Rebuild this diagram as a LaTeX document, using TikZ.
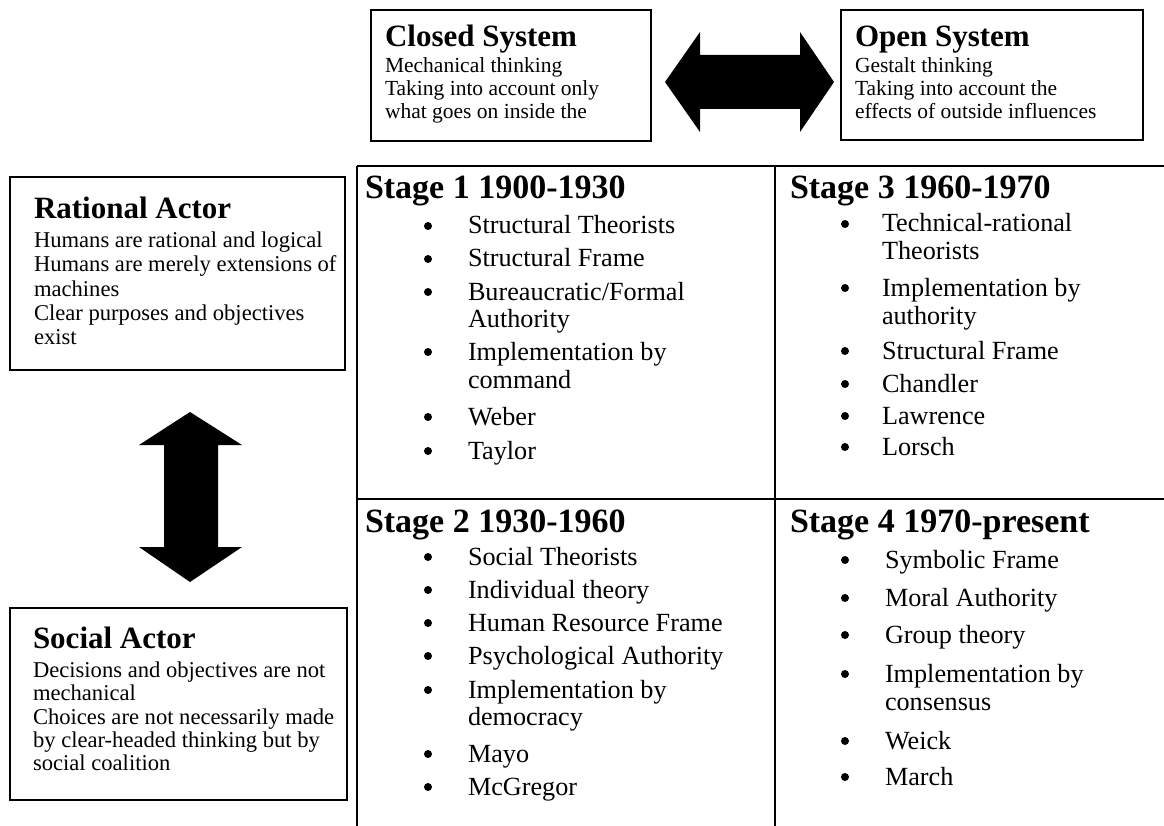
\documentclass[tikz,border=0pt]{standalone}
\usepackage{fontspec}
\setmainfont{Liberation Serif}
\begin{document}
\begin{tikzpicture}[x=1pt,y=-1pt,
  txt/.style={anchor=base west, inner sep=0pt, outer sep=0pt},
  ttl/.style={txt, font=\fontsize{31}{31}\selectfont\bfseries},
  small/.style={txt, font=\fontsize{21.5}{21.5}\selectfont},
  side/.style={txt, font=\fontsize{22.6}{22.6}\selectfont},
  stage/.style={txt, font=\fontsize{34}{34}\selectfont\bfseries},
  item/.style={txt, font=\fontsize{26.2}{26.2}\selectfont},
  boxline/.style={line width=1.4pt},
  gridline/.style={line width=1.2pt},
  bigarrow/.style={fill=black},
  dot/.style={circle, fill=black, inner sep=0pt, minimum size=8pt}]
\useasboundingbox (0,0) rectangle (1164,826);

% top boxes
\draw[boxline] (371,10) rectangle (651,141);
\draw[boxline] (841,10) rectangle (1143,140);
\node[ttl] (cs) at (385,47) {Closed System};
\node[small] (cs1) at (385,73) {Mechanical thinking};
\node[small] (cs2) at (385,96) {Taking into account only};
\node[small] (cs3) at (385,119) {what goes on inside the};
\node[ttl] (os) at (855,47) {Open System};
\node[small] (os1) at (855,73) {Gestalt thinking};
\node[small] (os2) at (855,96) {Taking into account the};
\node[small] (os3) at (855,119) {effects of outside influences};

% horizontal double arrow
\fill[bigarrow] (665,82) -- (700,32) -- (700,55) -- (800,55) -- (800,32) -- (834,82)
  -- (800,132) -- (800,109) -- (700,109) -- (700,132) -- cycle;

% left boxes
\draw[boxline] (10,177) rectangle (345,370);
\node[ttl] (ra) at (34,219) {Rational Actor};
\node[side] (ra1) at (34,248) {Humans are rational and logical};
\node[side] (ra2) at (34,272) {Humans are merely extensions of};
\node[side] (ra3) at (34,297) {machines};
\node[side] (ra4) at (34,320) {Clear purposes and objectives};
\node[side] (ra5) at (34,344) {exist};

\draw[boxline] (10,608) rectangle (347,800);
\node[ttl] (sa) at (33,648) {Social Actor};
\node[side] (sa1) at (33,677) {Decisions and objectives are not};
\node[side] (sa2) at (33,700) {mechanical};
\node[side] (sa3) at (33,724) {Choices are not necessarily made};
\node[side] (sa4) at (33,747) {by clear-headed thinking but by};
\node[side] (sa5) at (33,770) {social coalition};

% vertical double arrow
\fill[bigarrow] (190,412) -- (242,445) -- (218,445) -- (218,547) -- (242,547) -- (190,582)
  -- (139,547) -- (164,547) -- (164,445) -- (139,445) -- cycle;

% grid
\draw[gridline] (357,166) -- (1164,166);
\draw[gridline] (357,499) -- (1164,499);
\draw[gridline] (357,166) -- (357,826);
\draw[gridline] (775,166) -- (775,826);

% Stage 1
\node[stage] (s1) at (365,199) {Stage 1 1900-1930};
\node[dot] (b11) at (428,226) {}; \node[item] (t11) at (468,234) {Structural Theorists};
\node[dot] (b12) at (428,259) {}; \node[item] (t12) at (468,267) {Structural Frame};
\node[dot] (b13) at (428,292) {}; \node[item] (t13) at (468,300) {Bureaucratic/Formal};
\node[item] (t13b) at (468,327) {Authority};
\node[dot] (b14) at (428,352) {}; \node[item] (t14) at (468,360) {Implementation by};
\node[item] (t14b) at (468,388) {command};
\node[dot] (b15) at (428,417) {}; \node[item] (t15) at (468,425) {Weber};
\node[dot] (b16) at (428,451) {}; \node[item] (t16) at (468,459) {Taylor};

% Stage 3
\node[stage] (s3) at (790,199) {Stage 3 1960-1970};
\node[dot] (b31) at (845,224) {}; \node[item] (t31) at (882,232) {Technical-rational};
\node[item] (t31b) at (882,260) {Theorists};
\node[dot] (b32) at (845,288) {}; \node[item] (t32) at (882,296) {Implementation by};
\node[item] (t32b) at (882,324) {authority};
\node[dot] (b33) at (845,351) {}; \node[item] (t33) at (882,359) {Structural Frame};
\node[dot] (b34) at (845,384) {}; \node[item] (t34) at (882,392) {Chandler};
\node[dot] (b35) at (845,416) {}; \node[item] (t35) at (882,424) {Lawrence};
\node[dot] (b36) at (845,447) {}; \node[item] (t36) at (882,455) {Lorsch};

% Stage 2
\node[stage] (s2) at (365,532) {Stage 2 1930-1960};
\node[dot] (b21) at (428,557) {}; \node[item] (t21) at (468,565) {Social Theorists};
\node[dot] (b22) at (428,590) {}; \node[item] (t22) at (468,598) {Individual theory};
\node[dot] (b23) at (428,623) {}; \node[item] (t23) at (468,631) {Human Resource Frame};
\node[dot] (b24) at (428,656) {}; \node[item] (t24) at (468,664) {Psychological Authority};
\node[dot] (b25) at (428,690) {}; \node[item] (t25) at (468,698) {Implementation by};
\node[item] (t25b) at (468,725) {democracy};
\node[dot] (b26) at (428,754) {}; \node[item] (t26) at (468,762) {Mayo};
\node[dot] (b27) at (428,787) {}; \node[item] (t27) at (468,795) {McGregor};

% Stage 4
\node[stage] (s4) at (790,532) {Stage 4 1970-present};
\node[dot] (b41) at (845,560) {}; \node[item] (t41) at (885,568) {Symbolic Frame};
\node[dot] (b42) at (845,598) {}; \node[item] (t42) at (885,606) {Moral Authority};
\node[dot] (b43) at (845,635) {}; \node[item] (t43) at (885,643) {Group theory};
\node[dot] (b44) at (845,674) {}; \node[item] (t44) at (885,682) {Implementation by};
\node[item] (t44b) at (885,710) {consensus};
\node[dot] (b45) at (845,741) {}; \node[item] (t45) at (885,749) {Weick};
\node[dot] (b46) at (845,777) {}; \node[item] (t46) at (885,785) {March};
\end{tikzpicture}
\end{document}
